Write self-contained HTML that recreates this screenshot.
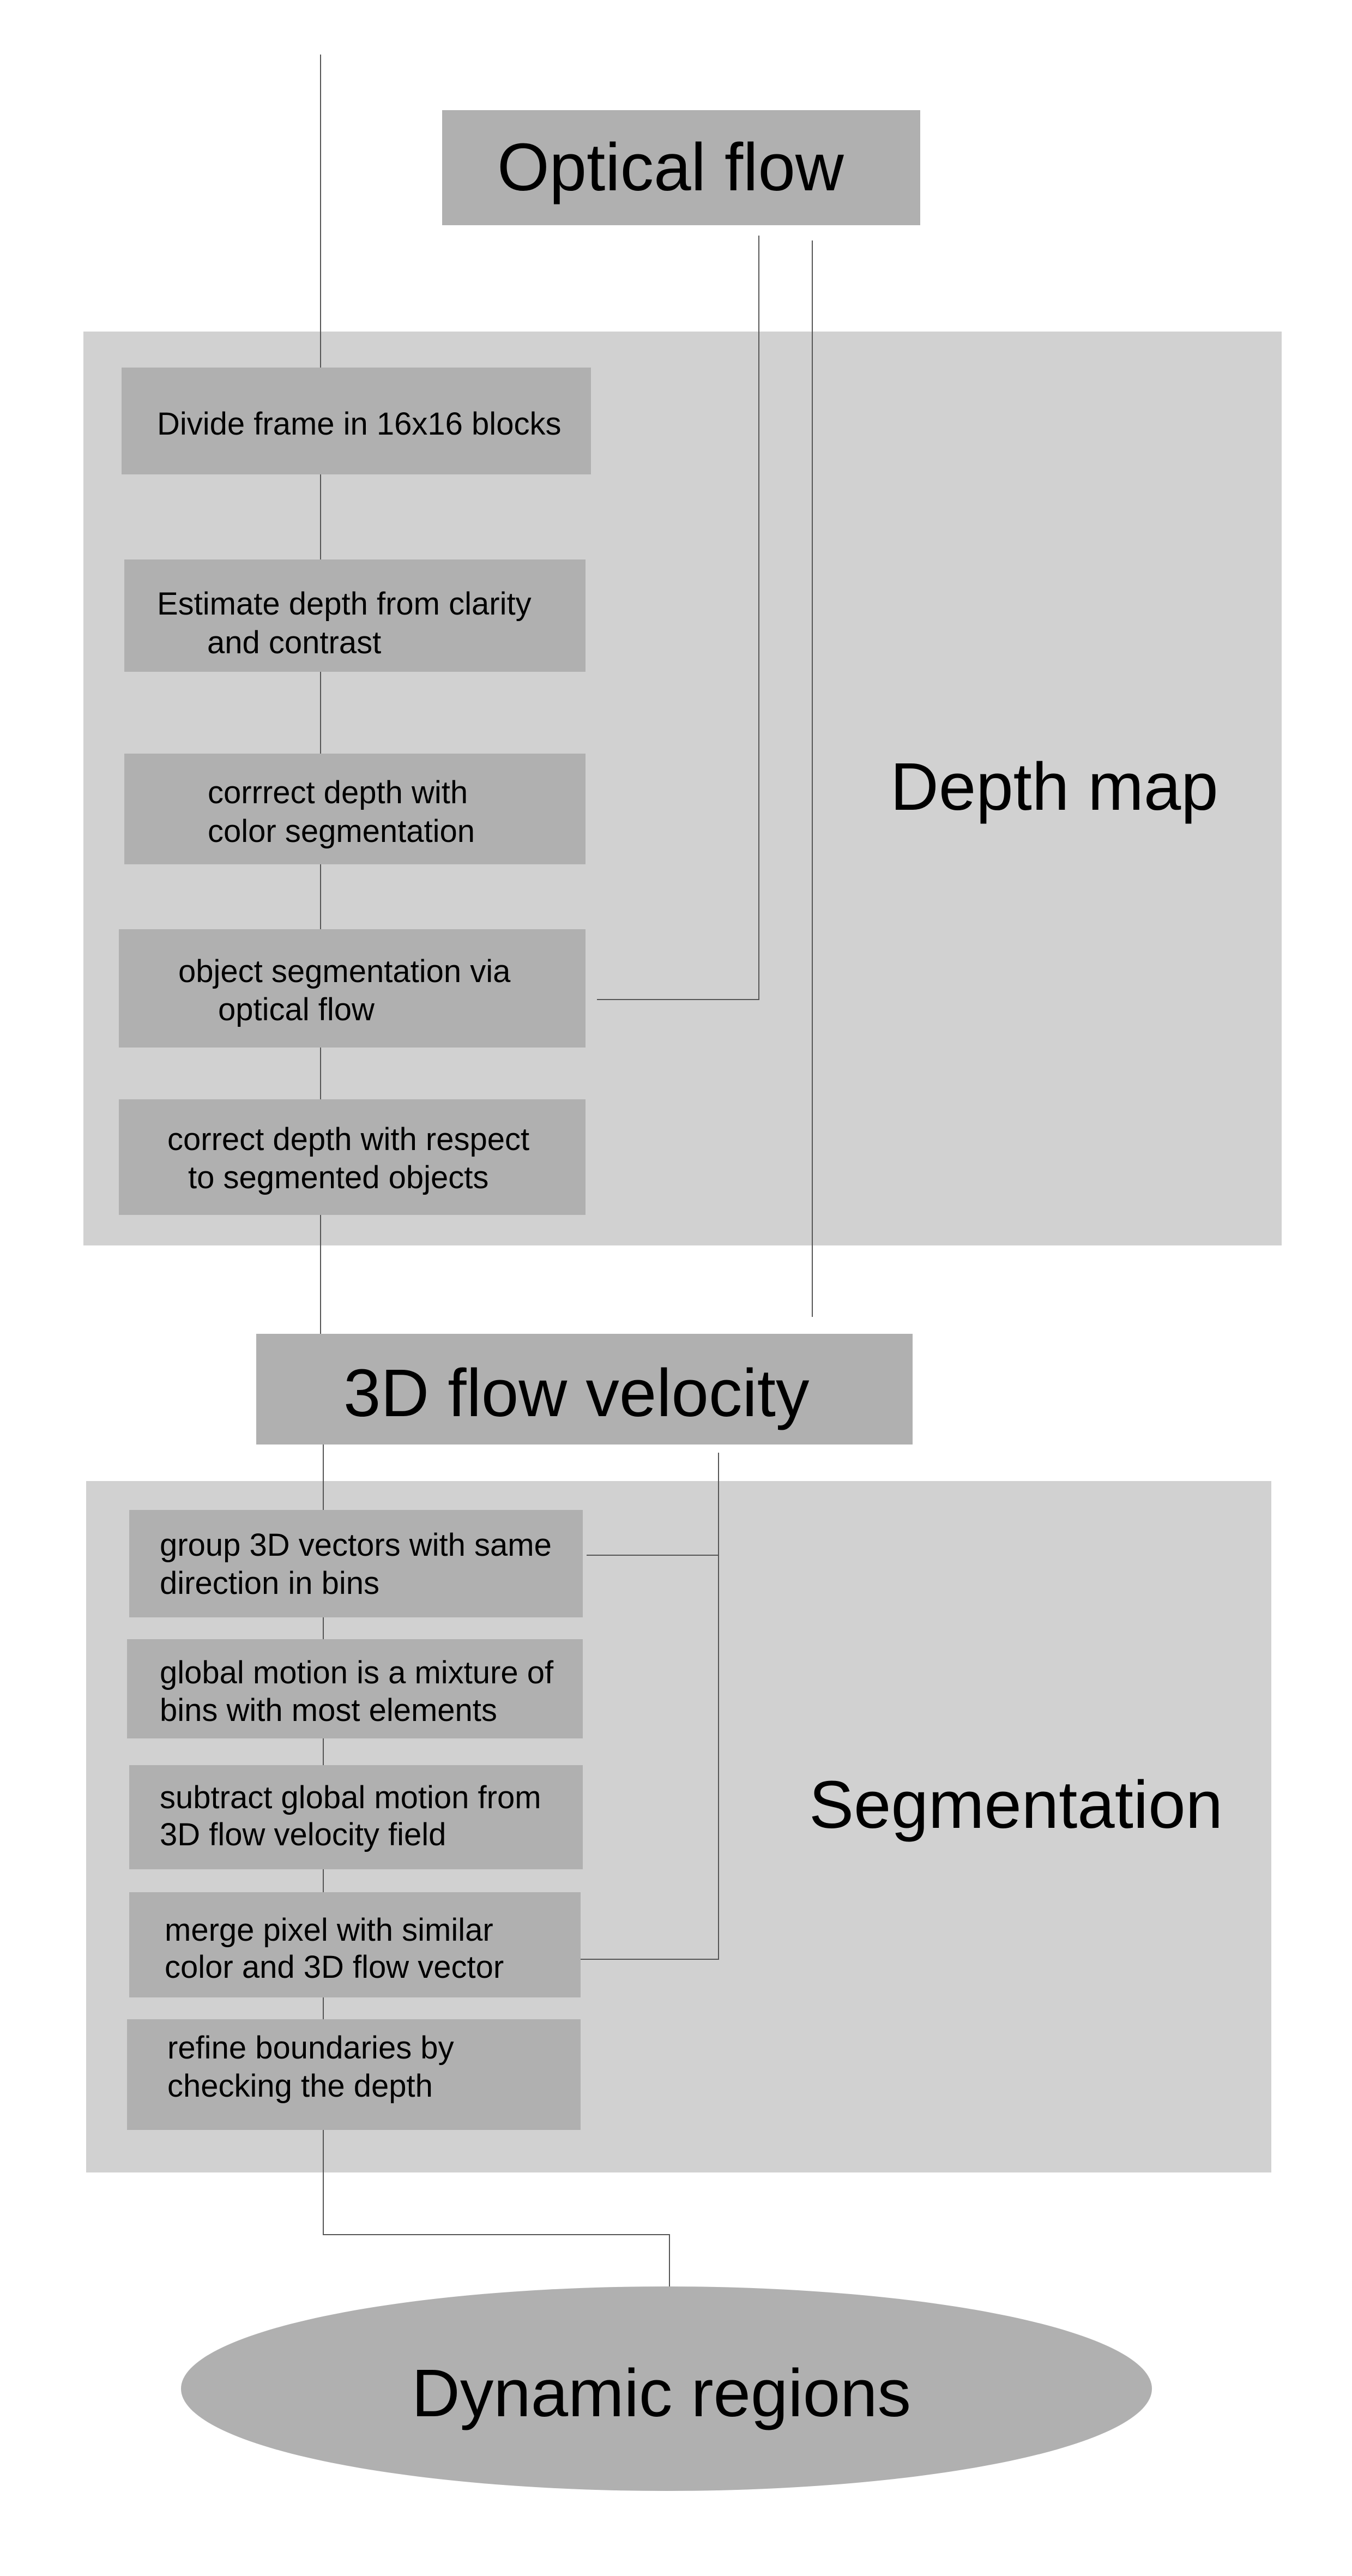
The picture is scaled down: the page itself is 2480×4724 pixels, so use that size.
<!DOCTYPE html>
<html><head><meta charset="utf-8">
<style>
html,body{margin:0;padding:0;background:#fff;}
body{width:2480px;height:4724px;position:relative;overflow:hidden;font-family:"Liberation Sans",sans-serif;color:#000;}
.p{position:absolute;background:#d1d1d1;}
.b{position:absolute;background:#b0b0b0;}
.t{position:absolute;font-size:58px;line-height:70px;white-space:nowrap;}
.L{position:absolute;font-size:123px;line-height:140px;white-space:nowrap;}
.v{position:absolute;width:2px;background:#555;}
.h{position:absolute;height:2px;background:#555;}
</style></head><body>
<!-- panels -->
<div class="p" style="left:153px;top:608px;width:2198px;height:1676px;"></div>
<div class="p" style="left:158px;top:2716px;width:2174px;height:1268px;"></div>

<!-- connectors -->
<div class="v" style="left:587px;top:100px;height:2386px;"></div>
<div class="v" style="left:1391px;top:432px;height:1401px;"></div>
<div class="h" style="left:1095px;top:1832px;width:298px;"></div>
<div class="v" style="left:1489px;top:441px;height:1974px;"></div>
<div class="v" style="left:1317px;top:2664px;height:929px;"></div>
<div class="h" style="left:1076px;top:2851px;width:243px;"></div>
<div class="h" style="left:1065px;top:3592px;width:254px;"></div>
<div class="v" style="left:592px;top:2649px;height:1450px;"></div>
<div class="h" style="left:592px;top:4097px;width:637px;"></div>
<div class="v" style="left:1227px;top:4097px;height:96px;"></div>

<!-- Optical flow -->
<div class="b" style="left:811px;top:202px;width:877px;height:211px;"></div>
<div class="L" style="left:912px;top:238px;">Optical flow</div>

<!-- depth boxes -->
<div class="b" style="left:223px;top:674px;width:861px;height:196px;"></div>
<div class="t" style="left:288px;top:743px;">Divide frame in 16x16 blocks</div>
<div class="b" style="left:228px;top:1026px;width:846px;height:206px;"></div>
<div class="t" style="left:288px;top:1073px;">Estimate depth from clarity</div>
<div class="t" style="left:380px;top:1144px;">and contrast</div>
<div class="b" style="left:228px;top:1382px;width:846px;height:203px;"></div>
<div class="t" style="left:381px;top:1419px;">corrrect depth with</div>
<div class="t" style="left:381px;top:1490px;">color segmentation</div>
<div class="b" style="left:218px;top:1704px;width:856px;height:217px;"></div>
<div class="t" style="left:327px;top:1747px;">object segmentation via</div>
<div class="t" style="left:400px;top:1817px;">optical flow</div>
<div class="b" style="left:218px;top:2016px;width:856px;height:212px;"></div>
<div class="t" style="left:307px;top:2055px;">correct depth with respect</div>
<div class="t" style="left:345px;top:2125px;">to segmented objects</div>
<div class="L" style="left:1633px;top:1374px;">Depth map</div>

<!-- 3D flow velocity -->
<div class="b" style="left:470px;top:2446px;width:1204px;height:203px;"></div>
<div class="L" style="left:630px;top:2486px;">3D flow velocity</div>

<!-- segmentation boxes -->
<div class="b" style="left:237px;top:2769px;width:832px;height:197px;"></div>
<div class="t" style="left:293px;top:2799px;">group 3D vectors with same</div>
<div class="t" style="left:293px;top:2869px;">direction in bins</div>
<div class="b" style="left:233px;top:3006px;width:836px;height:182px;"></div>
<div class="t" style="left:293px;top:3033px;">global motion is a mixture of</div>
<div class="t" style="left:293px;top:3102px;">bins with most elements</div>
<div class="b" style="left:237px;top:3237px;width:832px;height:191px;"></div>
<div class="t" style="left:293px;top:3262px;">subtract global motion from</div>
<div class="t" style="left:293px;top:3330px;">3D flow velocity field</div>
<div class="b" style="left:237px;top:3470px;width:828px;height:193px;"></div>
<div class="t" style="left:302px;top:3505px;">merge pixel with similar</div>
<div class="t" style="left:302px;top:3573px;">color and 3D flow vector</div>
<div class="b" style="left:233px;top:3703px;width:832px;height:203px;"></div>
<div class="t" style="left:307px;top:3721px;">refine boundaries by</div>
<div class="t" style="left:307px;top:3791px;">checking the depth</div>
<div class="L" style="left:1484px;top:3241px;">Segmentation</div>

<!-- Dynamic regions -->
<div style="position:absolute;left:332px;top:4193px;width:1781px;height:375px;border-radius:50%;background:#b0b0b0;"></div>
<div class="L" style="left:755px;top:4320px;">Dynamic regions</div>
</body></html>
